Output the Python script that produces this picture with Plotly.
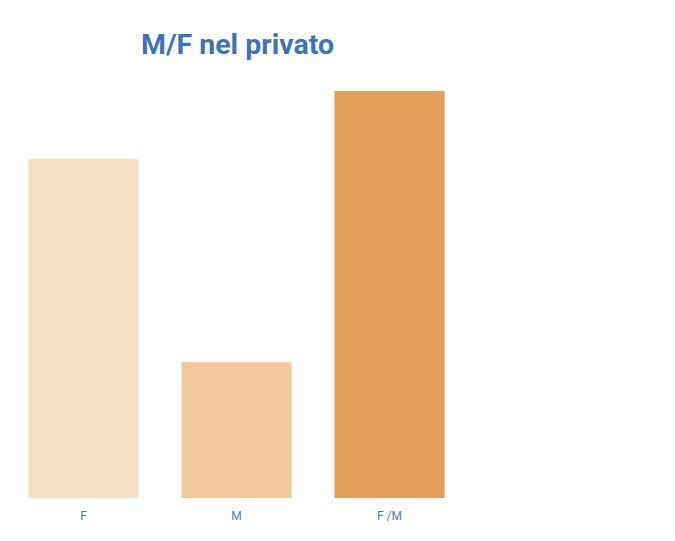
import plotly.graph_objects as go

categories = ["F", "M", "F /M"]
values = [5.0, 2.0, 6.0]
colors = ["#F6E0C5", "#F2C99A", "#E39F5A"]

fig = go.Figure(go.Bar(x=categories, y=values, marker_color=colors, marker_line_width=0))

fig.update_layout(
    width=667, height=533,
    margin=dict(l=0, r=208, t=83, b=43),
    paper_bgcolor="white", plot_bgcolor="white",
    bargap=0.28,
    showlegend=False,
    title=dict(text="<b>M/F nel privato</b>", x=0.5, xref="paper", y=1 - 36 / 533, yref="container",
               yanchor="middle", xanchor="center",
               font=dict(family="Roboto", size=28.5, color="#3F72B8")),
    xaxis=dict(showgrid=False, zeroline=False, showline=False, ticks="",
               range=[-0.4935, 2.5065],
               ticklabelstandoff=9,
               tickfont=dict(family="Roboto", size=12, color="#4A7CC2")),
    yaxis=dict(visible=False, range=[0, 6]),
)
fig.write_html("out.html")
